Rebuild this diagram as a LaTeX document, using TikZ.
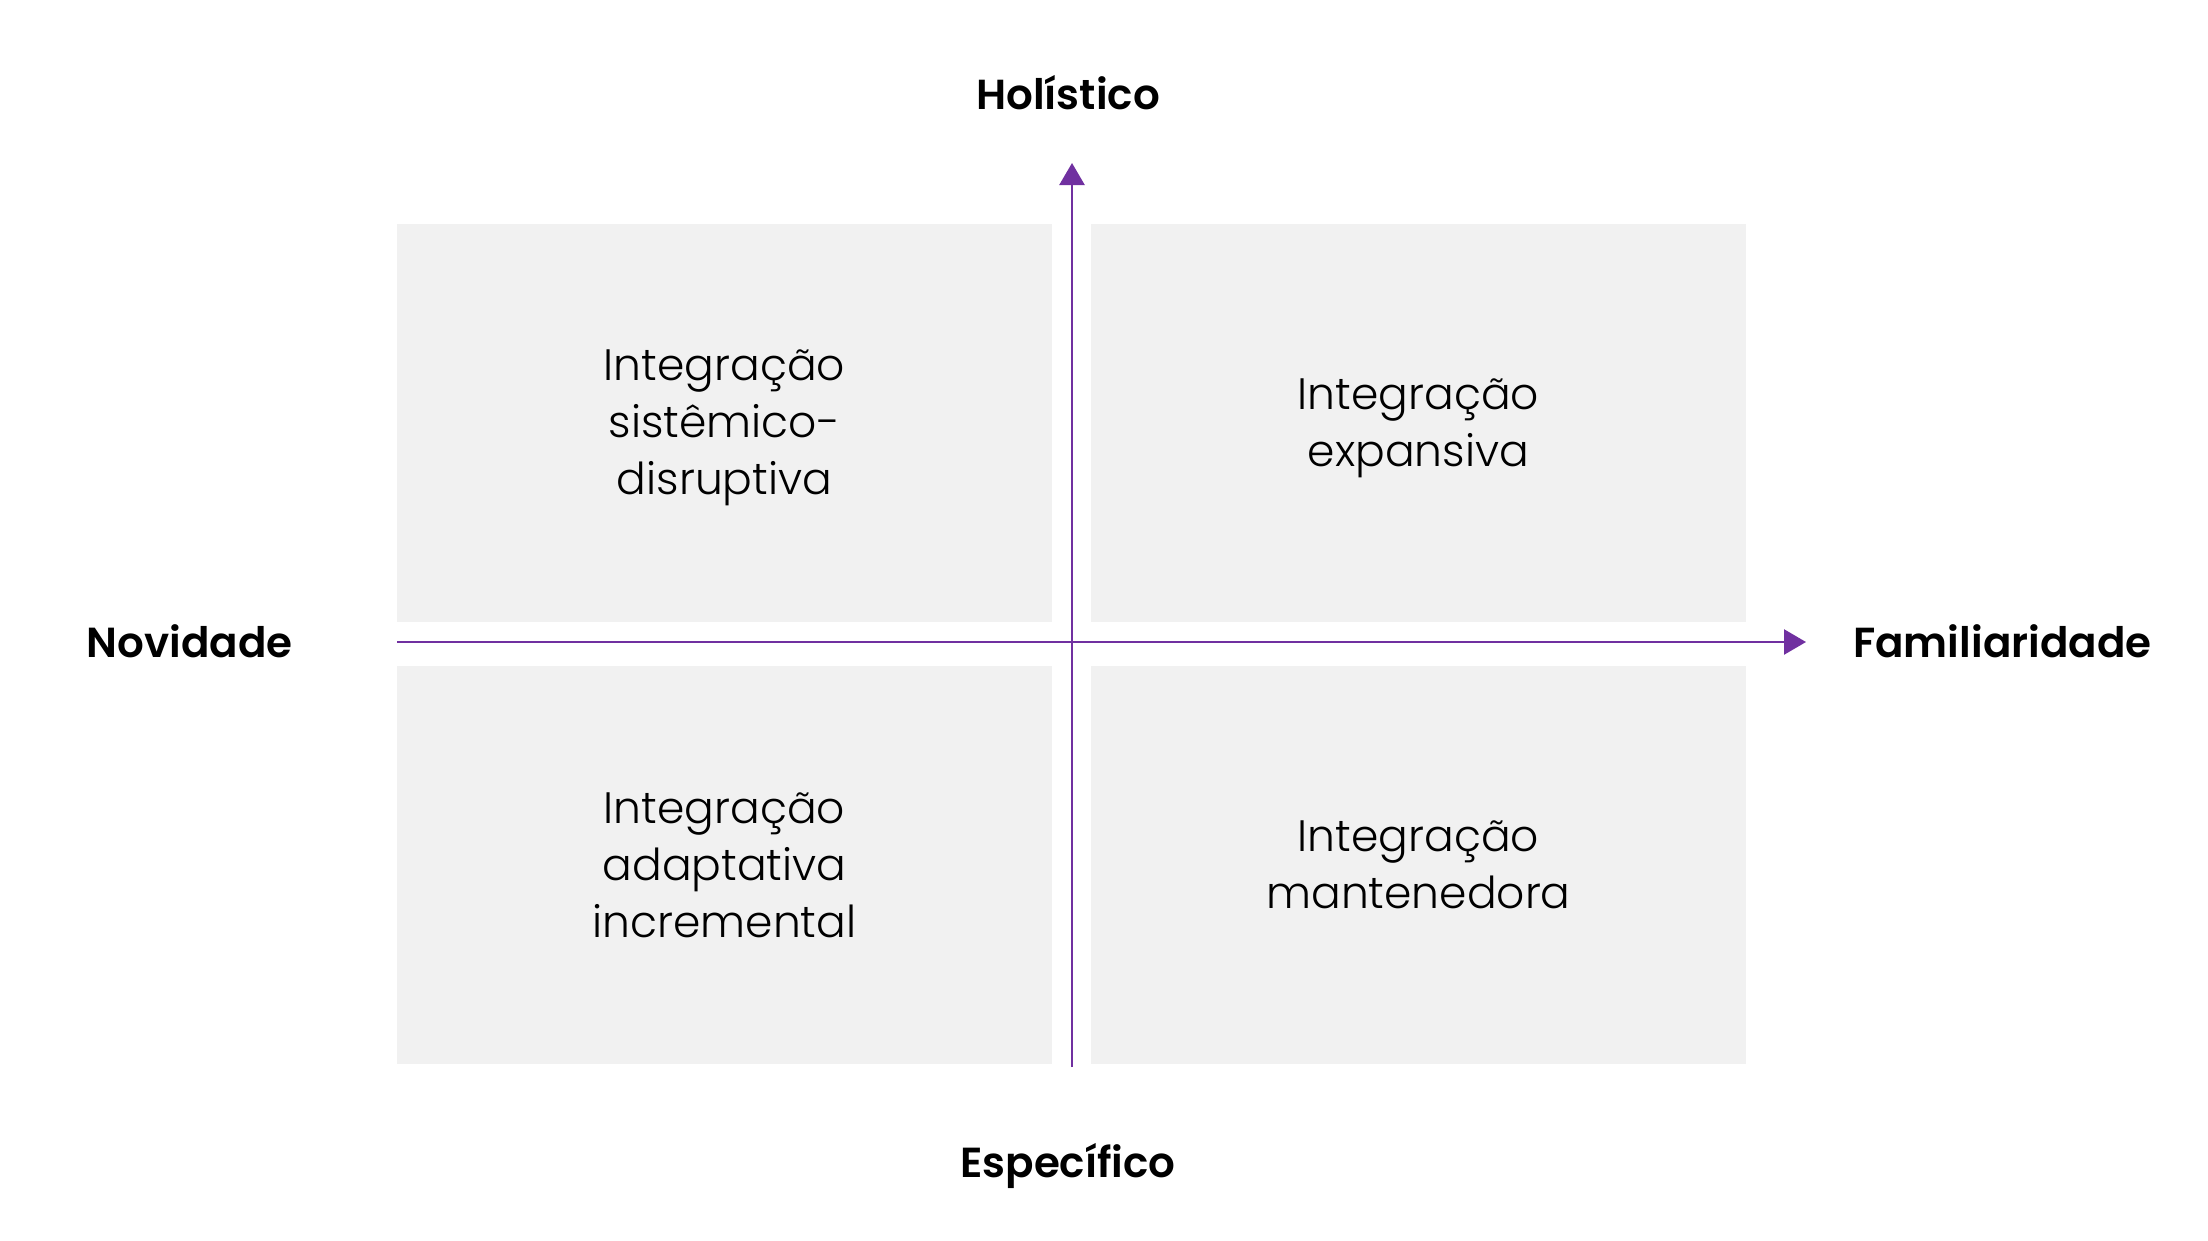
\documentclass[tikz,border=0pt]{standalone}
\usepackage{fontspec}
\setmainfont{Poppins}[UprightFont=* Light, BoldFont=* SemiBold]
\usetikzlibrary{arrows.meta}
\usetikzlibrary{positioning}
\definecolor{roxo}{HTML}{7030A0}
\definecolor{cinza}{HTML}{F1F1F1}

\begin{document}
\begin{tikzpicture}[
	x=1pt, y=-1pt,
  > = {Triangle[width=25pt,length=22pt]},
  quadro/.style = {fill=cinza, minimum width=655pt, minimum height=398pt, inner sep=0pt},
  texto/.style = {align=center, font=\fontsize{44}{57}\selectfont, inner sep=0pt, yshift=-5pt},
  eixo/.style = {draw=roxo, line width=2.5pt, ->},
  rotulo/.style = {font=\fontsize{42}{50}\selectfont\bfseries, inner sep=0pt}
  ]
	\useasboundingbox[fill=white] (0,0) rectangle (2208,1240);

	\node[quadro, label={[texto]center:{Integração\\sistêmico-\\disruptiva}}] (sd) at (724.5,423) {};
	\node[quadro, label={[texto]center:{Integração\\expansiva}}] (ex) at (1418.5,423) {};
	\node[quadro, label={[texto, yshift=5pt]center:{Integração\\adaptativa\\incremental}}] (ai) at (724.5,865) {};
	\node[quadro, label={[texto, yshift=5pt]center:{Integração\\mantenedora}}] (mt) at (1418.5,865) {};

	\coordinate (@nov) at (397,642);
	\coordinate (@fam) at (1806,642);
	\coordinate (@esp) at (1072,1067);
	\coordinate (@hol) at (1072,163);

  	\draw[eixo] (@nov) -- (@fam);
	\draw[eixo] (@esp) -- (@hol);

	\node[rotulo, anchor=base] (hol) at (1068,109) {Holístico};
	\node[rotulo, anchor=base] (esp) at (1068,1177) {Específico};
	\node[rotulo, anchor=base east] (nov) at (293,657) {Novidade};
	\node[rotulo, anchor=base west] (fam) at (1853,657) {Familiaridade};

\end{tikzpicture}
\end{document}
